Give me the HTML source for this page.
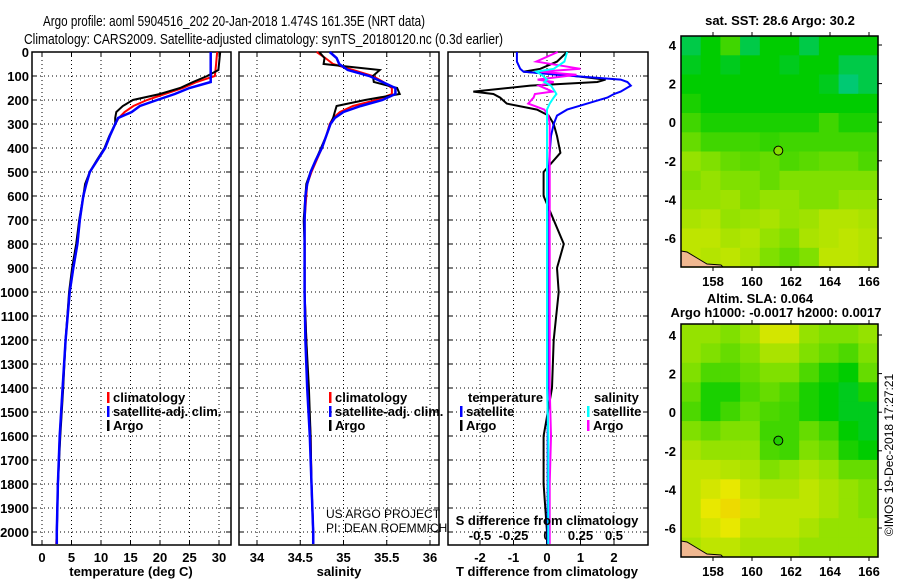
<!DOCTYPE html>
<html><head><meta charset="utf-8"><style>
body{margin:0;background:#fff;}
svg{display:block;font-family:"Liberation Sans",sans-serif;}
.b{font-weight:bold;font-size:13px;}
</style></head><body>
<svg id="chart" width="900" height="580" viewBox="0 0 900 580" xmlns="http://www.w3.org/2000/svg">
<rect width="900" height="580" fill="#fff"/>
<text x="43" y="26" font-size="15" textLength="382" lengthAdjust="spacingAndGlyphs">Argo profile: aoml 5904516_202 20-Jan-2018 1.474S 161.35E (NRT data)</text>
<text x="24" y="44" font-size="15" textLength="479" lengthAdjust="spacingAndGlyphs">Climatology: CARS2009. Satellite-adjusted climatology: synTS_20180120.nc (0.3d earlier)</text>
<g id="g"></g>
</svg>
<script>
// ---- data ----
const depths = [0,25,50,75,100,125,150,175,200,225,250,275,300,350,400,450,500,550,600,700,800,900,1000,1200,1400,1600,1800,2000,2050];
const tempClim = [29.7,29.6,29.5,29.4,29.3,26.2,23.9,20.8,17.8,15.5,14.0,13.0,12.4,11.5,10.7,9.4,8.1,7.5,7.0,6.4,6.0,5.3,4.7,4.0,3.5,3.0,2.7,2.5,2.4];
const tempSat = [28.6,28.6,28.6,28.6,28.6,28.6,25.0,22.5,19.5,16.6,15.2,12.9,12.4,11.5,10.7,9.4,8.1,7.5,7.0,6.4,6.0,5.3,4.7,4.0,3.5,3.0,2.7,2.5,2.5];
const tempArgo = [30.2,30.1,30.0,29.9,28.0,25.6,23.4,20.0,15.4,13.7,12.6,12.4,12.4,11.4,10.6,9.3,8.1,7.3,7.0,6.3,5.8,5.1,4.6,4.0,3.6,3.1,2.7,2.5,2.5];
const salClim = [34.69,34.79,34.88,35.11,35.34,35.46,35.56,35.56,35.38,35.11,34.96,34.88,34.84,34.8,34.75,34.69,34.63,34.58,34.57,34.55,34.55,34.55,34.55,34.57,34.59,34.62,34.63,34.65,34.65];
const salSat = [34.84,34.92,34.95,35.05,35.3,35.45,35.6,35.6,35.45,35.2,35.0,34.9,34.85,34.8,34.75,34.68,34.62,34.58,34.56,34.55,34.55,34.55,34.55,34.56,34.58,34.61,34.63,34.65,34.65];
const salArgo = [34.72,34.78,34.77,35.42,35.34,35.35,35.62,35.65,35.25,34.92,34.9,34.88,34.85,34.8,34.74,34.68,34.62,34.57,34.56,34.54,34.55,34.55,34.55,34.57,34.6,34.62,34.63,34.65,34.65];
const dDepths = [0,40,70,82,95,115,125,140,165,175,190,215,240,265,300,350,420,500,600,700,800,900,1000,1200,1400,1600,1800,2000,2050];
const dTempArgo = [0.6,0.3,-0.2,-0.7,0.5,1.75,1.5,-0.5,-2.2,-1.6,-1.4,-1.2,-0.3,0.05,0.2,0.3,0.4,-0.1,-0.1,0.2,0.5,0.3,0.35,0.2,0.15,-0.1,-0.1,0.0,0.0];
const dTempSat = [-0.9,-0.9,-0.8,-0.7,0.3,2.2,2.4,2.5,2.2,2.0,1.8,1.2,0.6,0.3,0.2,0.12,0.08,0.05,0.03,0.02,0.02,0.02,0.02,0.02,0.02,0.02,0.02,0.02,0.02];
const dSalArgo = [0.08,-0.08,0.25,-0.05,0.22,-0.07,0.05,-0.06,0.04,-0.09,-0.1,-0.14,-0.02,0.01,0.02,0.02,0.02,0.02,0.02,0.02,0.02,0.02,0.02,0.02,0.02,0.03,0.02,0.02,0.02];
const dSalSat = [0.15,0.13,0.05,-0.08,-0.04,0.0,-0.02,0.03,0.06,0.07,0.05,0.02,0.0,0.0,0.0,0.0,0.0,0.0,0.0,0.0,0.0,0.0,0.0,0.0,0.0,0.01,0.01,0.01,0.01];
const depthTicks = [0,100,200,300,400,500,600,700,800,900,1000,1100,1200,1300,1400,1500,1600,1700,1800,1900,2000];
const tempTicks = [0,5,10,15,20,25,30];
const salTicks = [34,34.5,35,35.5,36];
const dTTicks = [-2,-1,0,1,2];
const dSTicks = [-0.5,-0.25,0,0.25,0.5];
const lonTicks = [158,160,162,164,166];
const latTicks = [4,2,0,-2,-4,-6];
const sstGrid = [
[.45,.5,.55,.45,.5,.5,.45,.5,.5,.5],
[.48,.5,.48,.5,.5,.48,.5,.5,.45,.45],
[.5,.5,.5,.5,.5,.5,.5,.48,.42,.45],
[.52,.5,.5,.5,.5,.5,.5,.5,.5,.5],
[.55,.52,.52,.52,.52,.52,.52,.55,.52,.52],
[.58,.55,.55,.55,.54,.55,.55,.55,.55,.55],
[.62,.6,.58,.57,.58,.56,.57,.58,.58,.56],
[.6,.62,.6,.6,.58,.6,.6,.6,.6,.6],
[.62,.62,.63,.6,.62,.62,.6,.6,.62,.62],
[.64,.65,.62,.63,.64,.62,.63,.65,.65,.64],
[.66,.66,.64,.65,.62,.6,.64,.65,.66,.65],
[.66,.65,.66,.64,.6,.58,.6,.66,.66,.65]];
const slaGrid = [
[.62,.62,.6,.63,.68,.68,.62,.6,.6,.62],
[.62,.6,.58,.6,.64,.64,.6,.58,.56,.6],
[.6,.56,.56,.58,.6,.6,.56,.52,.5,.58],
[.58,.52,.52,.56,.58,.56,.52,.5,.48,.52],
[.56,.52,.55,.58,.56,.55,.52,.5,.48,.48],
[.6,.58,.6,.6,.55,.55,.58,.55,.5,.48],
[.64,.62,.62,.62,.56,.55,.6,.58,.52,.5],
[.66,.66,.65,.64,.6,.62,.64,.62,.58,.58],
[.66,.68,.7,.66,.64,.64,.66,.64,.62,.6],
[.66,.7,.72,.68,.66,.66,.66,.64,.62,.6],
[.66,.68,.7,.66,.66,.66,.64,.62,.62,.62],
[.64,.66,.66,.64,.64,.64,.62,.62,.62,.62]];
const argoLon = 161.35, argoLat = -1.474;

// ---- helpers ----
const NS="http://www.w3.org/2000/svg", G=document.getElementById('g');
function mk(tag,attrs,parent){const e=document.createElementNS(NS,tag);for(const k in attrs)e.setAttribute(k,attrs[k]);(parent||G).appendChild(e);return e;}
const yD = d => 52 + d*0.24;
function lin(d0,d1,r0,r1){return v=>r0+(v-d0)*(r1-r0)/(d1-d0);}

function panel(x0,x1,name){
  for(const d of depthTicks){ if(d===0)continue;
    const l=mk('line',{x1:x0,x2:x1,y1:yD(d),y2:yD(d),stroke:'#000','stroke-dasharray':'1 3','stroke-width':1});
    
    
    mk('line',{x1:x0,x2:x0+5,y1:yD(d),y2:yD(d),stroke:'#000'});
    mk('line',{x1:x1-5,x2:x1,y1:yD(d),y2:yD(d),stroke:'#000'});
  }
  const r=mk('rect',{x:x0,y:52,width:x1-x0,height:493,fill:'none',stroke:'#000','stroke-width':1.5});
  
  
}
function xgrid(sx,ticks,name,lblFn,ly){
  for(const t of ticks){
    const x=sx(t);
    const l=mk('line',{x1:x,x2:x,y1:52,y2:545,stroke:'#000','stroke-dasharray':'1 3'});
    
    
    mk('line',{x1:x,x2:x,y1:52,y2:57,stroke:'#000'});
    mk('line',{x1:x,x2:x,y1:540,y2:545,stroke:'#000'});
    const tx=mk('text',{x:x,y:ly,'text-anchor':'middle',class:'b'});
    tx.textContent=lblFn(t);
    
    
  }
}
function line(xs,ds,sx,color,w,name){
  const pts=xs.map((v,i)=>sx(v).toFixed(1)+','+yD(ds[i]).toFixed(1)).join(' ');
  const p=mk('polyline',{points:pts,fill:'none',stroke:color,'stroke-width':w});
  
  
}
function label(x,y,txt,name,anchor,extra){
  const t=mk('text',Object.assign({x:x,y:y,'text-anchor':anchor||'start',class:'b'},extra||{}));
  t.textContent=txt;
  
  
  return t;
}
function legendEntry(x,y,color,txt,name){
  mk('rect',{x:x,y:y-10,width:2.5,height:11,fill:color});
  label(x+6,y,txt,name);
}

for(const d of depthTicks){ label(29,yD(d)+5,String(d),'depth-tick-label','end'); }

// panel 1 temperature
const sxT=lin(0,30,42,219);
panel(32,231,'temp-panel');
xgrid(sxT,tempTicks,'temp',t=>String(t),562);
line(tempClim,depths,sxT,'#ff0000',2,'temp-climatology-line');
line(tempArgo,depths,sxT,'#000',2,'temp-argo-line');
line(tempSat,depths,sxT,'#0000ff',2.5,'temp-satellite-line');
label(131,576,'temperature (deg C)','temp-axis-title','middle');
legendEntry(107,402,'#ff0000','climatology','temp-legend-climatology');
legendEntry(107,416,'#0000ff','satellite-adj. clim.','temp-legend-satellite');
legendEntry(107,430,'#000','Argo','temp-legend-argo');

// panel 2 salinity
const sxS=lin(34,36,257,430);
panel(239,439,'sal-panel');
xgrid(sxS,salTicks,'sal',t=>String(t),562);
line(salClim,depths,sxS,'#ff0000',2,'sal-climatology-line');
line(salArgo,depths,sxS,'#000',2,'sal-argo-line');
line(salSat,depths,sxS,'#0000ff',2.5,'sal-satellite-line');
label(339,576,'salinity','sal-axis-title','middle');
legendEntry(329,402,'#ff0000','climatology','sal-legend-climatology');
legendEntry(329,416,'#0000ff','satellite-adj. clim.','sal-legend-satellite');
legendEntry(329,430,'#000','Argo','sal-legend-argo');
label(326,518,'US ARGO PROJECT','credit-project','start',{style:'font-weight:normal;font-size:12px'});
label(326,532,'PI: DEAN ROEMMICH','credit-pi','start',{style:'font-weight:normal;font-size:12px'});

// panel 3 differences
const sxDT=lin(0,2,547,614);
const sxDS=lin(0,0.5,547,614);
panel(448,648,'diff-panel');
xgrid(sxDT,dTTicks,'tdiff',t=>String(t),562);
for(const s of dSTicks){label(sxDS(s),540,String(s),'sdiff-tick-label','middle');}
line(dTempArgo,dDepths,sxDT,'#000',2,'tdiff-argo-line');
line(dTempSat,dDepths,sxDT,'#0000ff',2,'tdiff-satellite-line');
line(dSalArgo,dDepths,sxDS,'#ff00ff',2,'sdiff-argo-line');
line(dSalSat,dDepths,sxDS,'#00ffff',2,'sdiff-satellite-line');
label(547,576,'T difference from climatology','tdiff-axis-title','middle');
label(547,525,'S difference from climatology','sdiff-axis-title','middle');
label(468,402,'temperature','diff-legend-temp-header');
legendEntry(460,416,'#0000ff','satellite','diff-legend-temp-satellite');
legendEntry(460,430,'#000','Argo','diff-legend-temp-argo');
label(594,402,'salinity','diff-legend-sal-header');
legendEntry(587,416,'#00ffff','satellite','diff-legend-sal-satellite');
legendEntry(587,430,'#ff00ff','Argo','diff-legend-sal-argo');

// ---- maps ----
const stops=[[0.3,[0,160,255]],[0.4,[0,200,144]],[0.5,[0,204,0]],[0.6,[128,224,0]],[0.7,[232,232,0]],[0.8,[255,160,0]]];
function cmap(v){
  if(v<=stops[0][0])return 'rgb('+stops[0][1]+')';
  for(let i=1;i<stops.length;i++){if(v<=stops[i][0]){const f=(v-stops[i-1][0])/(stops[i][0]-stops[i-1][0]);const a=stops[i-1][1],b=stops[i][1];return 'rgb('+a.map((c,k)=>Math.round(c+(b[k]-c)*f)).join(',')+')';}}
  return 'rgb('+stops[stops.length-1][1]+')';
}
function map(top,bottom,grid,name,lat4y,latm6y,markerFill){
  const x0=681,x1=878;
  const sx=lin(158,166,713,869);
  const sy=lin(4,-6,lat4y,latm6y);
  const rows=grid.length, cols=grid[0].length;
  const cw=(x1-x0)/cols, ch=(bottom-top)/rows;
  grid.forEach((row,r)=>row.forEach((v,c)=>{
    const cell=mk('rect',{x:(x0+c*cw).toFixed(1),y:(top+r*ch).toFixed(1),width:(cw+0.6).toFixed(1),height:(ch+0.6).toFixed(1),fill:cmap(v)});
    
    
  }));
  const coast=mk('path',{d:`M${x0} ${bottom-16} L${x0+6} ${bottom-15} L${x0+16} ${bottom-9} L${x0+26} ${bottom-3} L${x0+40} ${bottom-2} L${x0+42} ${bottom} L${x0} ${bottom} Z`,fill:'#f0b890',stroke:'#000','stroke-width':1});
  
  
  const fr=mk('rect',{x:x0,y:top,width:x1-x0,height:bottom-top,fill:'none',stroke:'#000','stroke-width':1.5});
  
  
  for(const l of lonTicks){const x=sx(l);mk('line',{x1:x,x2:x,y1:top-4,y2:top,stroke:'#000'});mk('line',{x1:x,x2:x,y1:bottom,y2:bottom+4,stroke:'#000'});label(x,bottom+19,String(l),name+'-lon-label','middle');}
  for(const l of latTicks){const y=sy(l);mk('line',{x1:x1,x2:x1+4,y1:y,y2:y,stroke:'#000'});label(676,y+5,String(l),name+'-lat-label','end');}
  const m=mk('circle',{cx:sx(argoLon),cy:sy(argoLat),r:4.5,fill:markerFill,stroke:'#000','stroke-width':1});
  
  
}
map(36,267,sstGrid,'sst-map',45,238,'#88dd00');
label(780,25,'sat. SST: 28.6 Argo: 30.2','sst-map-title','middle');
map(324,557,slaGrid,'sla-map',335,528,'#22cc00');
label(760,303,'Altim. SLA: 0.064','sla-map-title','middle');
label(776,317,'Argo h1000: -0.0017 h2000: 0.0017','sla-map-subtitle','middle');
label(893,455,'©IMOS 19-Dec-2018 17:27:21','timestamp','middle',{transform:'rotate(-90 893 455)',style:'font-weight:normal;font-size:12px'});
</script>
</body></html>
